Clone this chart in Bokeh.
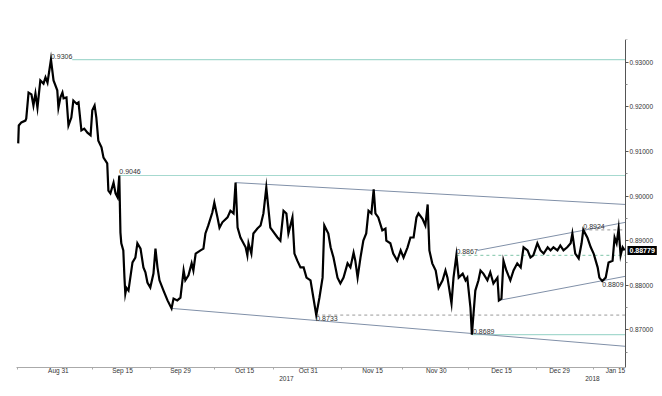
import numpy as np
from bokeh.plotting import figure
from bokeh.models import Range1d, LinearAxis, FixedTicker, Label, PrintfTickFormatter
from bokeh.core.properties import value
from bokeh.embed import file_html
from bokeh.resources import INLINE

# x = trading-day index (0 = 22 Aug 2017), price
day = [0.0, 0.1, 0.55, 1.25, 1.4, 1.8, 2.3, 2.65, 3.0, 3.35,
       3.85, 4.4, 4.75, 5.1, 5.7, 6.15, 6.8, 7.0, 7.35, 7.7,
       7.9, 8.4, 8.75, 9.25, 9.6, 10.15, 10.5, 11.0, 11.5, 12.05,
       12.6, 12.9, 13.3, 13.6, 13.95, 14.5, 14.85, 15.5, 15.7, 16.05,
       16.6, 16.95, 17.3, 17.6, 17.8, 17.95, 18.3, 18.5, 18.65, 18.85,
       19.2, 19.9, 20.4, 20.75, 21.3, 21.8, 22.15, 22.5, 23.0, 23.55,
       23.9, 24.25, 24.6, 25.3, 26.0, 26.7, 27.05, 27.7, 28.25, 28.8,
       29.1, 29.65, 30.2, 30.5, 30.9, 31.75, 32.25, 32.6, 33.1, 33.8,
       34.15, 34.7, 35.05, 35.55, 36.45, 36.95, 37.5, 37.85, 38.2, 38.7,
       39.6, 39.9, 40.1, 40.6, 40.95, 41.65, 42.2, 42.7, 43.2, 43.9,
       45.15, 45.65, 46.2, 46.7, 47.05, 47.75, 48.1, 48.6, 49.15, 49.7,
       50.2, 50.9, 51.4, 51.9, 52.45, 53.0, 53.3, 54.0, 54.4, 54.9,
       55.6, 56.1, 56.65, 57.35, 57.85, 58.4, 58.7, 59.1, 59.6, 60.1,
       60.6, 61.0, 61.5, 61.9, 62.2, 62.7, 63.4, 63.95, 64.1, 64.8,
       65.3, 66.0, 66.6, 67.1, 67.8, 68.3, 68.85, 69.35, 69.7, 70.4,
       70.9, 71.3, 71.6, 72.1, 72.7, 73.2, 73.9, 74.4, 74.75, 75.45,
       75.8, 76.3, 76.7, 77.4, 77.9, 78.2, 78.75, 79.0, 79.6, 80.15,
       80.5, 81.0, 81.7, 82.2, 82.75, 83.45, 83.7, 84.15, 84.5, 85.0,
       85.7, 86.25, 86.9, 87.5, 88.0, 88.7, 89.2, 89.7, 90.4, 90.95,
       91.5, 92.2, 92.7, 93.2, 93.9, 94.4, 94.95, 95.6, 96.2, 96.5,
       97.0, 97.6, 98.1, 98.4, 99.1, 99.7, 100.2, 100.9, 101.2, 101.7,
       102.3, 102.8, 103.5, 103.85, 104.2, 104.55, 104.9, 105.25, 105.6]

price = [0.9118, 0.9158, 0.9165, 0.9169, 0.9174, 0.9232, 0.9228, 0.9203, 0.9230, 0.9198,
         0.9259, 0.9252, 0.9266, 0.9254, 0.9306, 0.9259, 0.9237, 0.9198, 0.9221, 0.9232,
         0.9219, 0.9221, 0.9158, 0.9176, 0.9214, 0.9207, 0.9210, 0.9147, 0.9151, 0.9142,
         0.9136, 0.9192, 0.9203, 0.9176, 0.9124, 0.9109, 0.9086, 0.9073, 0.9012, 0.9006,
         0.9030, 0.9006, 0.8997, 0.9046, 0.8918, 0.8894, 0.8878, 0.8817, 0.8781, 0.8794,
         0.8788, 0.8851, 0.8862, 0.8894, 0.8882, 0.8840, 0.8829, 0.8806, 0.8795, 0.8826,
         0.8882, 0.8840, 0.8811, 0.8788, 0.8766, 0.8748, 0.8770, 0.8766, 0.8772, 0.8833,
         0.8811, 0.8822, 0.8849, 0.8833, 0.8871, 0.8878, 0.8882, 0.8916, 0.8934, 0.8963,
         0.8985, 0.8952, 0.8929, 0.8941, 0.8952, 0.8967, 0.8961, 0.9030, 0.8929, 0.8907,
         0.8885, 0.8867, 0.8894, 0.8871, 0.8916, 0.8927, 0.8934, 0.8961, 0.9019, 0.8929,
         0.8907, 0.8900, 0.8967, 0.8961, 0.8916, 0.8952, 0.8871, 0.8855, 0.8840, 0.8840,
         0.8817, 0.8811, 0.8772, 0.8733, 0.8772, 0.8817, 0.8934, 0.8916, 0.8885, 0.8862,
         0.8817, 0.8804, 0.8817, 0.8849, 0.8840, 0.8873, 0.8855, 0.8817, 0.8862, 0.8900,
         0.8916, 0.8967, 0.8961, 0.9015, 0.8961, 0.8952, 0.8923, 0.8927, 0.8900, 0.8894,
         0.8871, 0.8855, 0.8878, 0.8862, 0.8885, 0.8907, 0.8907, 0.8952, 0.8961, 0.8949,
         0.8934, 0.8981, 0.8878, 0.8849, 0.8833, 0.8794, 0.8811, 0.8833, 0.8817, 0.8759,
         0.8817, 0.8867, 0.8817, 0.8826, 0.8811, 0.8817, 0.8750, 0.8689, 0.8788, 0.8811,
         0.8833, 0.8826, 0.8811, 0.8829, 0.8804, 0.8817, 0.8766, 0.8770, 0.8855, 0.8833,
         0.8811, 0.8833, 0.8849, 0.8840, 0.8885, 0.8878, 0.8862, 0.8867, 0.8894, 0.8878,
         0.8871, 0.8885, 0.8878, 0.8885, 0.8878, 0.8889, 0.8878, 0.8885, 0.8894, 0.8916,
         0.8871, 0.8860, 0.8894, 0.8924, 0.8907, 0.8885, 0.8871, 0.8840, 0.8817, 0.8809,
         0.8817, 0.8851, 0.8855, 0.8907, 0.8894, 0.8927, 0.8867, 0.8885, 0.8878]

last_price = 0.88779

# x-axis labels
date_labels = ["Aug 31", "Sep 15", "Sep 29", "Oct 15", "Oct 31", "Nov 15",
               "Nov 30", "Dec 15", "Dec 29", "Jan 15"]
date_pos = [7.0, 18.15, 28.25, 39.4, 50.5, 61.7, 72.8, 84.15, 94.25, 104.0]
date_minor = [-0.1, 12.9, 23.0, 34.2, 44.4, 56.3, 66.9, 78.4, 90.2, 100.2]
year_labels = ["2017", "2018"]
year_pos = [46.7, 100.0]

# y-axis
y_ticks = [0.87, 0.88, 0.89, 0.90, 0.91, 0.92, 0.93]
y_minor = [0.865, 0.875, 0.885, 0.895, 0.905, 0.915, 0.925, 0.935]

# annotated levels
solid_levels = [0.9306, 0.9046, 0.8689]
solid_start = [9.4, 17.6, 79.0]
grey_dash_levels = [0.8733, 0.8924]
grey_dash_start = [51.9, 98.4]
green_dash_levels = [0.8867]
green_dash_start = [76.3]

# trend lines: start (day, price) -> end (day, price)
trend_x0 = [37.85, 26.7, 80.0, 83.7]
trend_y0 = [0.9030, 0.8748, 0.8878, 0.8766]
trend_x1 = [105.75, 105.75, 105.75, 105.75]
trend_y1 = [0.8981, 0.8663, 0.8941, 0.8820]

# level text labels
above_text = ["0.9306", "0.9046", "0.8867", "0.8924", "0.8689"]
above_x = [5.7, 17.6, 76.3, 98.4, 79.2]
above_y = [0.9306, 0.9046, 0.8867, 0.8924, 0.8689]
below_text = ["0.8733", "0.8809"]
below_x = [51.9, 101.7]
below_y = [0.8733, 0.8809]

FONT = "Liberation Sans"
W, H = 660, 388
BL, BT, BB = 16, 39, 21
AXIS_PX = 609                       # pixels from frame left to the price axis
X0, XR = -0.3, 105.75               # data span up to the price axis
X_END = X0 + (XR - X0) * (W - BL) / AXIS_PX
Y0, Y1 = 0.86155, 0.93509

p = figure(width=W, height=H, output_backend="svg", toolbar_location=None,
           x_range=Range1d(X0, X_END), y_range=Range1d(Y0, Y1),
           x_axis_location=None, y_axis_location=None,
           min_border_left=BL, min_border_right=0, min_border_top=BT, min_border_bottom=BB)
p.outline_line_color = None
p.xgrid.visible = False
p.ygrid.visible = False
p.background_fill_color = "white"
p.border_fill_color = "white"

# level lines
p.segment(x0=solid_start, y0=solid_levels, x1=[XR] * len(solid_levels), y1=solid_levels,
          line_color="#a6d9cf", line_width=1.2)
p.segment(x0=grey_dash_start, y0=grey_dash_levels, x1=[XR] * len(grey_dash_levels),
          y1=grey_dash_levels, line_color="#9a9a9a", line_width=1, line_dash="3 3")
p.segment(x0=green_dash_start, y0=green_dash_levels, x1=[XR] * len(green_dash_levels),
          y1=green_dash_levels, line_color="#7fc4a8", line_width=1, line_dash="3 3")
p.segment(x0=trend_x0, y0=trend_y0, x1=trend_x1, y1=trend_y1,
          line_color="#8090a8", line_width=1)

# price
p.line(day, price, line_color="black", line_width=2.2, line_join="miter")

# texts
p.text(x=above_x, y=above_y, text=above_text, text_font=value(FONT), text_font_size="7px",
       text_color="#333333", text_baseline="bottom", text_align="left", y_offset=-1)
p.text(x=below_x, y=below_y, text=below_text, text_font=value(FONT), text_font_size="7px",
       text_color="#333333", text_baseline="top", text_align="left", y_offset=1)

# price axis, fixed at the end of the data span
yax = LinearAxis(ticker=FixedTicker(ticks=y_ticks, minor_ticks=y_minor),
                 formatter=PrintfTickFormatter(format="%.5f"), fixed_location=XR)
yax.major_label_text_font = FONT
yax.major_label_text_font_size = "6.5px"
yax.major_label_text_color = "#333333"
yax.major_tick_out = 3
yax.major_tick_in = 0
yax.minor_tick_out = 2
yax.minor_tick_in = 0
yax.major_label_standoff = 1
yax.axis_line_color = "#555555"
yax.major_tick_line_color = "#555555"
yax.minor_tick_line_color = "#888888"
p.add_layout(yax, "right")

# bottom date axis
xax = LinearAxis(ticker=FixedTicker(ticks=date_pos, minor_ticks=date_minor),
                 bounds=(X0, XR))
xax.major_label_overrides = {pos: lab for pos, lab in zip(date_pos, date_labels)}
xax.major_label_text_font = FONT
xax.major_label_text_font_size = "6.5px"
xax.major_label_text_color = "#333333"
xax.major_tick_out = 0
xax.major_tick_in = 0
xax.minor_tick_out = 2
xax.minor_tick_in = 0
xax.major_label_standoff = -3
xax.axis_line_color = "#aaaaaa"
xax.minor_tick_line_color = "#aaaaaa"
p.add_layout(xax, "below")

yrax = LinearAxis(ticker=FixedTicker(ticks=year_pos, minor_ticks=[]))
yrax.major_label_overrides = {pos: lab for pos, lab in zip(year_pos, year_labels)}
yrax.major_label_text_font = FONT
yrax.major_label_text_font_size = "6.5px"
yrax.major_label_text_color = "#333333"
yrax.major_tick_out = 0
yrax.major_tick_in = 0
yrax.minor_tick_out = 0
yrax.major_label_standoff = -1
yrax.axis_line_color = None
p.add_layout(yrax, "below")

# last price box
p.add_layout(Label(x=XR, y=last_price, text=f"{last_price:.5f}", x_offset=2,
                   text_baseline="middle", text_align="left",
                   text_font=FONT, text_font_size="7px", text_font_style="bold",
                   text_color="white", background_fill_color="black",
                   background_fill_alpha=1.0, padding=2))

open("out.html", "w").write(file_html(p, INLINE))
